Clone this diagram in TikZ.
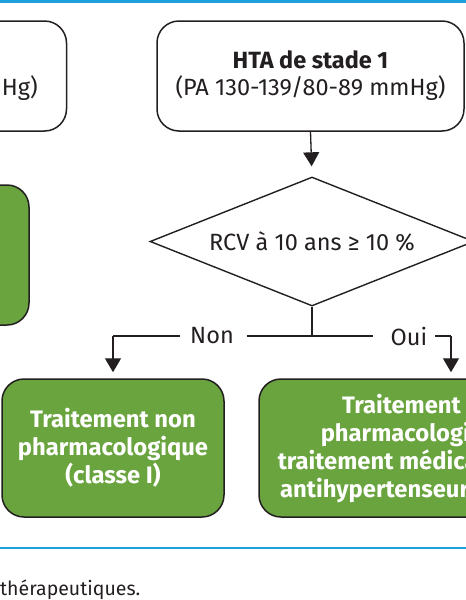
\documentclass[tikz,border=0pt]{standalone}
\usepackage{fontspec}
\setmainfont{Fira Sans}
\usetikzlibrary{shapes.geometric,arrows.meta}
\definecolor{hgreen}{RGB}{106,164,62}
\definecolor{hblue}{RGB}{30,160,220}
\definecolor{ink}{RGB}{35,31,32}
\begin{document}
\begin{tikzpicture}[x=1pt,y=-1pt,
  wbox/.style={draw=ink, line width=1.5pt, rounded corners=22pt, fill=white, inner sep=0pt},
  gbox/.style={draw=ink, line width=1.5pt, rounded corners=22pt, fill=hgreen, inner sep=0pt,
     text=white, font=\fontsize{23.8}{28}\selectfont\bfseries, align=center},
  txt/.style={text=ink, font=\fontsize{23.5}{27}\selectfont, align=center, inner sep=0pt},
  conn/.style={draw=ink, line width=1.3pt},
  arr/.style={conn, -{Triangle[width=16pt,length=14pt]}},
  rule/.style={draw=hblue, line width=2.6pt}]
\useasboundingbox (0,0) rectangle (466,600);
\begin{scope}
\clip (0,0) rectangle (466,600);
% rules
\draw[rule] (0,1.5) -- (466,1.5);
\draw[rule] (0,548) -- (466,548);
% top boxes
\node[wbox, minimum width=307pt, minimum height=110pt] (lbox) at (-87,76) {};
\node[txt, anchor=base east, font=\fontsize{23.5}{27}\selectfont\bfseries] (ltxt1) at (-6,68) {HTA de stade 2};
\node[txt, anchor=base east] (ltxt2) at (38,95) {(PA ≥ 140/90 mmHg)};
\node[wbox, minimum width=307pt, minimum height=110pt, txt] (hta) at (310.5,76) {\textbf{HTA de stade 1}\\(PA 130-139/80-89 mmHg)};
% left green box
\node[gbox, minimum width=258pt, minimum height=140pt] (lg) at (-100,255) {};
% diamond
\node[diamond, draw=ink, line width=1.4pt, fill=white, inner sep=0pt, aspect=2.5,
      minimum width=324pt, minimum height=129pt, txt] (dia) at (312,241.5) {RCV à 10 ans ≥ 10 \%};
% junction and labels
\coordinate (junc) at (312,336);
\node[txt] (non) at (212,336) {Non};
\node[txt] (oui) at (409,336) {Oui};
\coordinate (lc) at (113,336);
\coordinate (rc) at (451,336);
% green boxes
\node[gbox, minimum width=222pt, minimum height=138pt] (gl) at (113,448) {Traitement non\\pharmacologique\\(classe I)};
\node[gbox, minimum width=332pt, minimum height=138pt] (gr) at (425,448) {Traitement non\\pharmacologique +\\traitement médicamenteux\\antihypertenseur (classe I)};
% connectors
\draw[arr, shorten >=10pt] (hta.south) -- (dia.north);
\draw[conn] (dia.south) -- (junc);
\draw[conn] ([xshift=13pt]non.east) -- (junc) -- ([xshift=-18pt]oui.west);
\draw[conn] ([xshift=-10pt]non.west) -- (lc);
\draw[arr, shorten >=6pt] (lc) -- (gl.north);
\draw[conn] ([xshift=8pt]oui.east) -- (rc);
\draw[arr, shorten >=6pt] (rc) -- (rc |- gr.north);
% caption
\node[txt, anchor=base west, font=\fontsize{19.5}{22}\selectfont] (cap) at (0,595) {thérapeutiques.};
\end{scope}
\end{tikzpicture}
\end{document}
